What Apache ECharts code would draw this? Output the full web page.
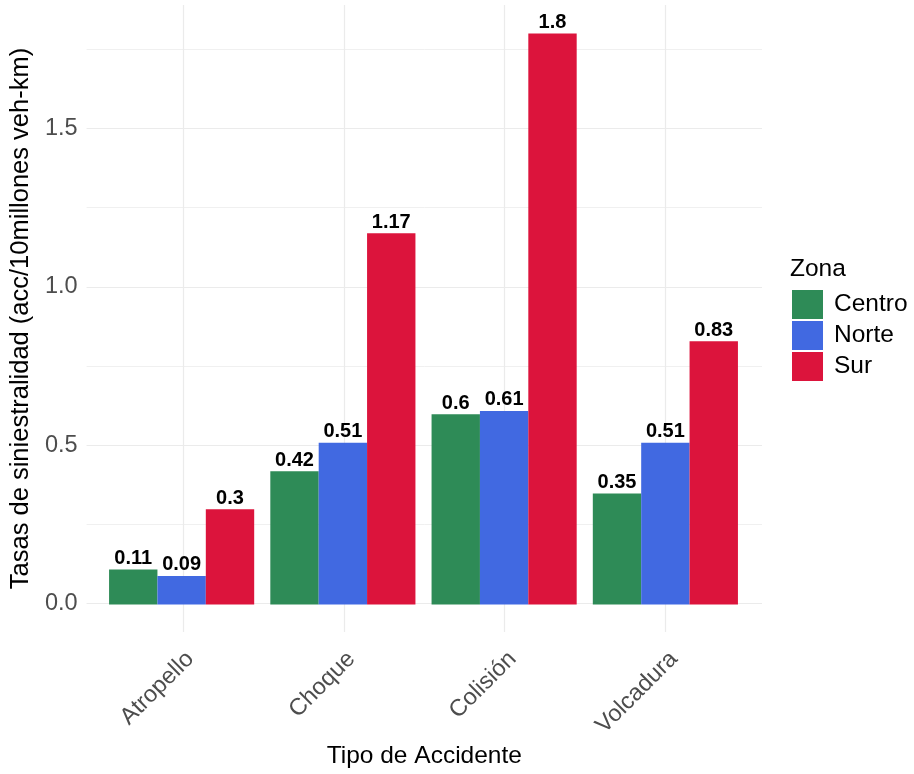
<!DOCTYPE html>
<html>
<head>
<meta charset="utf-8">
<script src="https://cdn.jsdelivr.net/npm/echarts@6/dist/echarts.min.js"></script>
<style>
  html, body { margin: 0; padding: 0; background: #fff; }
  #chart { width: 914px; height: 774px; }
</style>
</head>
<body>
<div id="chart"></div>
<script>
// data
const categories = ['Atropello', 'Choque', 'Colisión', 'Volcadura']
const zonas = ['Centro', 'Norte', 'Sur']
const centro = [0.11, 0.42, 0.6, 0.35]
const norte = [0.09, 0.51, 0.61, 0.51]
const sur = [0.3, 1.17, 1.8, 0.83]
const yMajor = [0, 0.5, 1, 1.5]
const yMinor = [0.25, 0.75, 1.25, 1.75]

const colors = ['#2E8B57', '#4169E1', '#DC143C']
const font = 'Liberation Sans, Arial, sans-serif'
// ggplot style expansion: 5% on y, 0.6 units on discrete x
const yMin = -0.09
const yMax = 1.89
const xCenters = categories.map((c, i) => i + 1)

const chart = echarts.init(document.getElementById('chart'))

const barSeries = [centro, norte, sur].map((vals, i) => ({
  name: zonas[i],
  type: 'bar',
  xAxisIndex: 1,
  yAxisIndex: 2,
  data: vals,
  barGap: '0%',
  barCategoryGap: '10%',
  itemStyle: { color: colors[i] },
  label: {
    show: true,
    position: 'top',
    distance: 1,
    color: '#000',
    fontWeight: 'bold',
    fontSize: 20,
    fontFamily: font,
  },
}))

chart.setOption({
  animation: false,
  textStyle: { fontFamily: font },
  title: {
    text: 'Zona',
    left: 790,
    top: 257,
    padding: 0,
    textStyle: { fontSize: 24.5, fontWeight: 'normal', color: '#000', fontFamily: font },
  },
  legend: {
    data: zonas,
    orient: 'vertical',
    left: 792,
    top: 290,
    padding: 0,
    icon: 'rect',
    itemWidth: 31,
    itemHeight: 29,
    itemGap: 2,
    textStyle: { fontSize: 24.5, color: '#000', fontFamily: font, padding: [0, 0, 0, 6] },
  },
  grid: [
    { left: 85, right: 152, top: 5, bottom: 141 },
    { left: 101, right: 168, top: 5, bottom: 141 },
  ],
  xAxis: [
    {
      gridIndex: 0,
      type: 'value',
      min: 0.4,
      max: 4.6,
      axisLine: { show: false },
      axisTick: { show: false, customValues: xCenters },
      axisLabel: { show: false },
      splitLine: { show: true, lineStyle: { color: '#ebebeb', width: 1.2 } },
      name: 'Tipo de Accidente',
      nameLocation: 'middle',
      nameGap: 112,
      nameTextStyle: { fontSize: 24.5, color: '#000', fontFamily: font },
    },
    {
      gridIndex: 1,
      type: 'category',
      data: categories,
      axisLine: { show: false },
      axisTick: { show: false },
      splitLine: { show: false },
      axisLabel: {
        rotate: 45,
        margin: 14,
        verticalAlign: 'top',
        fontSize: 23.5,
        color: '#4d4d4d',
        fontFamily: font,
      },
    },
  ],
  yAxis: [
    {
      gridIndex: 0,
      type: 'value',
      position: 'left',
      min: yMin,
      max: yMax,
      axisLine: { show: false },
      axisTick: { show: false, customValues: yMajor },
      axisLabel: {
        customValues: yMajor,
        formatter: (v) => v.toFixed(1),
        margin: 9,
        fontSize: 23.5,
        color: '#4d4d4d',
        fontFamily: font,
      },
      splitLine: { show: true, lineStyle: { color: '#ebebeb', width: 1.2 } },
      name: 'Tasas de siniestralidad (acc/10millones veh-km)',
      nameLocation: 'middle',
      nameGap: 47,
      nameTextStyle: { fontSize: 25.5, color: '#000', fontFamily: font },
    },
    {
      gridIndex: 0,
      type: 'value',
      position: 'left',
      min: yMin,
      max: yMax,
      axisLine: { show: false },
      axisTick: { show: false, customValues: yMinor },
      axisLabel: { show: false },
      splitLine: { show: true, lineStyle: { color: '#f0f0f0', width: 1 } },
    },
    {
      gridIndex: 1,
      type: 'value',
      min: yMin,
      max: yMax,
      show: false,
    },
  ],
  series: barSeries,
})
</script>
</body>
</html>
